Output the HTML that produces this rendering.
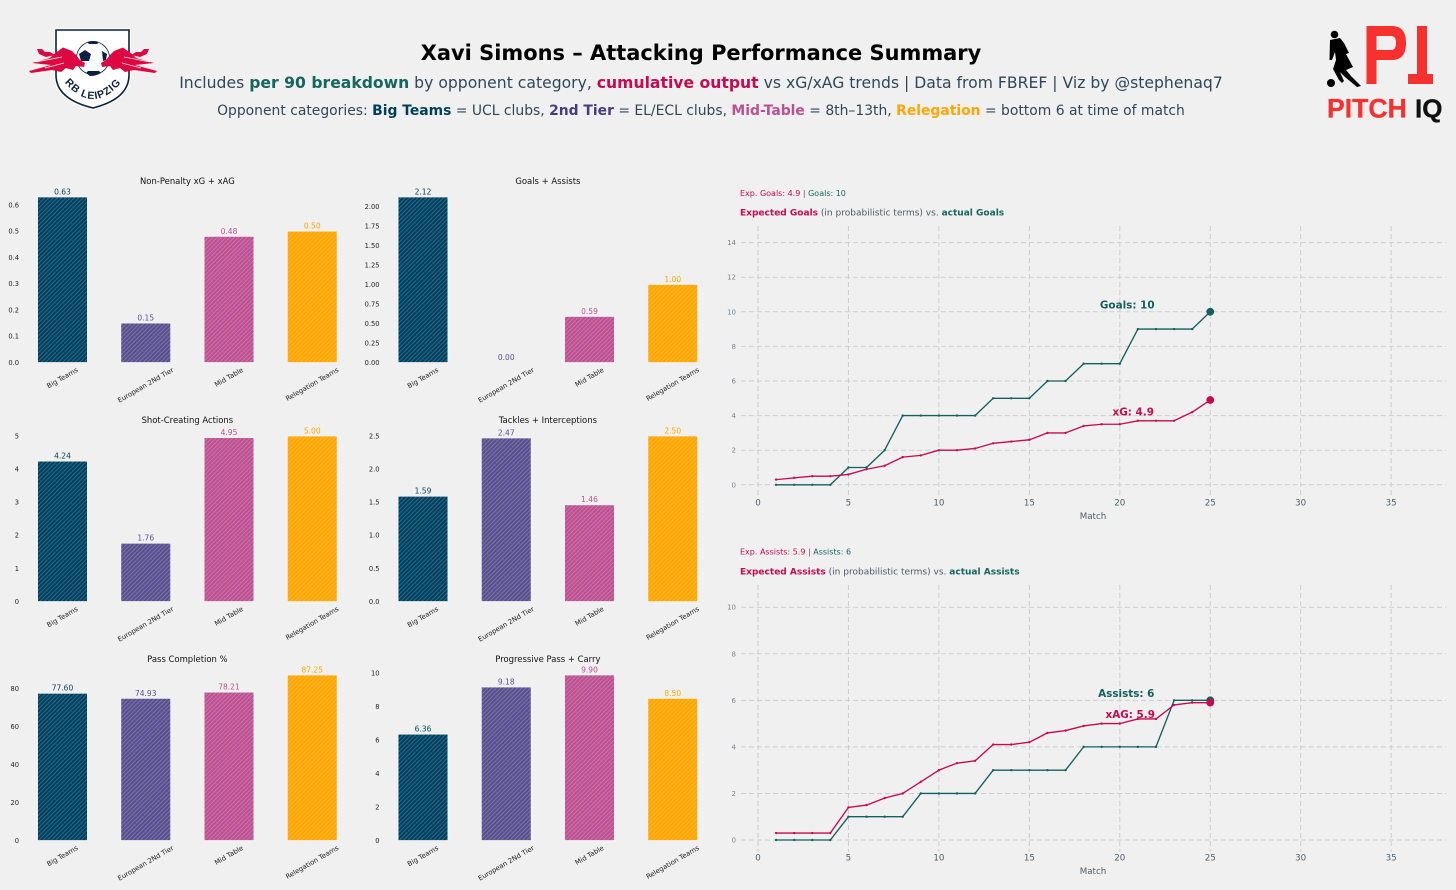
<!DOCTYPE html>
<html>
<head>
<meta charset="utf-8">
<title>Xavi Simons – Attacking Performance Summary</title>
<style>
html,body{margin:0;padding:0;background:#f0f0f0;}
body{width:1456px;height:890px;overflow:hidden;}
svg{display:block;font-family:"DejaVu Sans","Liberation Sans",sans-serif;}
</style>
</head>
<body>
<svg id="root" xmlns="http://www.w3.org/2000/svg" width="1456" height="890" viewBox="0 0 1456 890">
  <defs>
    <pattern id="hatch-0" width="3" height="3" patternUnits="userSpaceOnUse" patternTransform="rotate(45)"><rect width="3" height="3" fill="#003f5c"/><rect width="1" height="3" fill="#2a6a88"/></pattern>
    <pattern id="hatch-1" width="3" height="3" patternUnits="userSpaceOnUse" patternTransform="rotate(45)"><rect width="3" height="3" fill="#58508d"/><rect width="1" height="3" fill="#7a72a8"/></pattern>
    <pattern id="hatch-2" width="3" height="3" patternUnits="userSpaceOnUse" patternTransform="rotate(45)"><rect width="3" height="3" fill="#bc5090"/><rect width="1" height="3" fill="#cc74a8"/></pattern>
    <pattern id="hatch-3" width="3" height="3" patternUnits="userSpaceOnUse" patternTransform="rotate(45)"><rect width="3" height="3" fill="#ffa600"/><rect width="1" height="3" fill="#ffb52e"/></pattern>
    <path id="badge-arc" d="M61 78 Q93 120 125 78"/>
    <g id="bull">
      <path fill="#dd0741" d="M63 47.5 L72 51 L76 55 L80 60 L85 63 L84 67 L76 66 L73 70 L66 68 L61 72 L52 70 L31 73 L29 71 L44 67 L51 65 L32 63 L50 58 L54 54 Z"/>
      <path fill="#dd0741" d="M37 49 L42 49 L45 52 L50 52 L55 55 L46 57 L39 54 Z"/>
      <path fill="none" stroke="#f4f4f4" stroke-width="0.7" d="M36 62 L62 57 M45 68 L64 63"/>
    </g>
  </defs>

  <rect width="1456" height="890" fill="#f0f0f0"/>

  <g>
    <path d="M54 28 H131 V75 Q131 101 93 110 Q54 101 54 75 Z" fill="#ffffff" opacity="0.8"/>
    <path d="M56 30 H129 V75 Q129 99 93 108 Q56 99 56 75 Z" fill="#ffffff" stroke="#0c2043" stroke-width="1.6"/>
    <circle cx="93" cy="58" r="16.5" fill="#ffffff" stroke="#0c2043" stroke-width="0.8"/>
    <path d="M85 50 L91 54 L89 61 L81 61 L79 54 Z" fill="#0c2043"/>
    <path d="M87 42 Q93 40 99 42 L97 44 L89 44 Z" fill="#0c2043"/>
    <path d="M88 71 H99 L101 73 Q96 76 90 76 L86 73 Z" fill="#0c2043"/>
    <path d="M102 51 L107 54 L106 60 L103 61 Z" fill="#0c2043"/>
    <use href="#bull"/>
    <use href="#bull" transform="translate(186 0) scale(-1 1)"/>
    <text font-family="'Liberation Sans',sans-serif" font-weight="700" font-size="10.5" fill="#0c2043"><textPath href="#badge-arc" startOffset="50%" text-anchor="middle" letter-spacing="0.9">RB LEIPZIG</textPath></text>
  </g>

  <g>
    <path fill="#f8312f" fill-rule="evenodd" d="M1366.5 26 H1392 Q1406 26 1406 43 Q1406 60 1392 60 H1376.5 V84 H1366.5 Z M1376.5 36 V50 H1391 Q1396 50 1396 43 Q1396 36 1391 36 Z"/>
    <path fill="#f8312f" d="M1417 26 H1427 V74 H1433 V84 H1408 V74 H1417 Z"/>
    <circle cx="1334.5" cy="34.5" r="3.8" fill="#000"/>
    <path fill="#000" d="M1330 40 L1340 38 L1344 43 L1349 53 L1346 54 L1353 67 L1346 70 L1351 76 L1361 86 L1357 87 L1345 77 L1340 72 L1344 81 L1342 83 L1339 80 L1333 69 L1336 60 L1335 52 L1332 60 L1329.5 60 Z"/>
    <circle cx="1331" cy="83" r="4" fill="#000"/>
    <text x="1327" y="117.5" font-family="'Liberation Sans',sans-serif" font-weight="700" font-size="26.6" fill="#f8312f" stroke="#f8312f" stroke-width="0.3">PITCH</text>
    <text x="1415" y="117.5" font-family="'Liberation Sans',sans-serif" font-weight="700" font-size="26" fill="#111" stroke="#111" stroke-width="0.3">IQ</text>
  </g>

  <text x="701" y="60" text-anchor="middle" font-size="20.95" font-weight="700" fill="#000">Xavi Simons – Attacking Performance Summary</text>
  <text x="701" y="88" text-anchor="middle" font-size="15.63" fill="#2f4858">Includes <tspan font-weight="700" fill="#14665e">per 90 breakdown</tspan> by opponent category, <tspan font-weight="700" fill="#c70a50">cumulative output</tspan> vs xG/xAG trends | Data from FBREF | Viz by @stephenaq7</text>
  <text x="701" y="115" text-anchor="middle" font-size="13.9" fill="#2f4858">Opponent categories: <tspan font-weight="700" fill="#003f5c">Big Teams</tspan> = UCL clubs, <tspan font-weight="700" fill="#463d7e">2nd Tier</tspan> = EL/ECL clubs, <tspan font-weight="700" fill="#bc5090">Mid-Table</tspan> = 8th–13th, <tspan font-weight="700" fill="#ffa600">Relegation</tspan> = bottom 6 at time of match</text>

  <g id="bars-layer"></g>
  <g id="lines-layer"></g>

  <g>
    <text x="740" y="196" font-size="8" fill="#c70a50">Exp. Goals: 4.9 <tspan fill="#555"> | </tspan><tspan fill="#14665e">Goals: 10</tspan></text>
    <text x="740" y="215.5" font-size="9.03" fill="#4a5a68"><tspan font-weight="700" fill="#c70a50">Expected Goals</tspan> (in probabilistic terms) vs. <tspan font-weight="700" fill="#14665e">actual Goals</tspan></text>
  </g>
  <g>
    <text x="740" y="554.5" font-size="8" fill="#c70a50">Exp. Assists: 5.9 <tspan fill="#555"> | </tspan><tspan fill="#14665e">Assists: 6</tspan></text>
    <text x="740" y="574.5" font-size="9.03" fill="#4a5a68"><tspan font-weight="700" fill="#c70a50">Expected Assists</tspan> (in probabilistic terms) vs. <tspan font-weight="700" fill="#14665e">actual Assists</tspan></text>
  </g>
</svg>

<script>
var categories = ['Big Teams', 'European 2Nd Tier', 'Mid Table', 'Relegation Teams'];
var npxgXagValues = [0.63, 0.15, 0.48, 0.50];
var goalsAssistsValues = [2.12, 0.00, 0.59, 1.00];
var scaValues = [4.24, 1.76, 4.95, 5.00];
var tacklesIntsValues = [1.59, 2.47, 1.46, 2.50];
var passPctValues = [77.60, 74.93, 78.21, 87.25];
var progressiveValues = [6.36, 9.18, 9.90, 8.50];

var npxgXagTicks = ['0.0', '0.1', '0.2', '0.3', '0.4', '0.5', '0.6'];
var goalsAssistsTicks = ['0.00', '0.25', '0.50', '0.75', '1.00', '1.25', '1.50', '1.75', '2.00'];
var scaTicks = ['0', '1', '2', '3', '4', '5'];
var tacklesIntsTicks = ['0.0', '0.5', '1.0', '1.5', '2.0', '2.5'];
var passPctTicks = ['0', '20', '40', '60', '80'];
var progressiveTicks = ['0', '2', '4', '6', '8', '10'];

var matches = [1,2,3,4,5,6,7,8,9,10,11,12,13,14,15,16,17,18,19,20,21,22,23,24,25];
var goalsCumulative = [0,0,0,0,1,1,2,4,4,4,4,4,5,5,5,6,6,7,7,7,9,9,9,9,10];
var xgCumulative = [0.3,0.4,0.5,0.5,0.6,0.9,1.1,1.6,1.7,2.0,2.0,2.1,2.4,2.5,2.6,3.0,3.0,3.4,3.5,3.5,3.7,3.7,3.7,4.2,4.9];
var assistsCumulative = [0,0,0,0,1,1,1,1,2,2,2,2,3,3,3,3,3,4,4,4,4,4,6,6,6];
var xagCumulative = [0.3,0.3,0.3,0.3,1.4,1.5,1.8,2.0,2.5,3.0,3.3,3.4,4.1,4.1,4.2,4.6,4.7,4.9,5.0,5.0,5.2,5.2,5.8,5.9,5.9];

var xTicks = [0, 5, 10, 15, 20, 25, 30, 35];
var goalsYTicks = [0, 2, 4, 6, 8, 10, 12, 14];
var assistsYTicks = [0, 2, 4, 6, 8, 10];

var SVGNS = 'http://www.w3.org/2000/svg';
var valueColors = ['#003f5c', '#58508d', '#bc5090', '#ffa600'];
var TEAL = '#14605e';
var CRIMSON = '#c70a50';

function make(tag, parent, attrs, text) {
  var node = document.createElementNS(SVGNS, tag);
  for (var k in attrs) { node.setAttribute(k, attrs[k]); }
  if (text !== undefined) { node.textContent = text; }
  parent.appendChild(node);
  return node;
}

function drawBarPanel(parent, slug, title, values, ticks, left, baseY) {
  var step = 83.25, barW = 49.8, first = left, plotH = 165.5;
  var maxV = Math.max.apply(null, values);
  function xScale(i) { return first + i * step; }
  function yScale(v) { return baseY - v / maxV * plotH; }

  var g = make('g', parent, {});
  
  

  var t = make('text', g, { x: first + 1.5 * step, y: baseY - 178.5, 'text-anchor': 'middle', 'font-size': 8.45, fill: '#111' }, title);
  
  

  ticks.forEach(function (label) {
    var ty = yScale(parseFloat(label));
    var tick = make('text', g, { x: left - 43.5, y: ty + 2.4, 'text-anchor': 'end', 'font-size': 6.7, fill: '#222' }, label);
    
    
  });

  values.forEach(function (v, i) {
    var top = yScale(v);
    var bar = make('rect', g, { x: xScale(i) - barW / 2, y: top, width: barW, height: Math.max(baseY - top, 0), fill: 'url(#hatch-' + i + ')', stroke: '#f6f6f6', 'stroke-width': 0.7 });
    
    

    var lab = make('text', g, { x: xScale(i), y: top - 2.6, 'text-anchor': 'middle', 'font-size': 7.5, fill: valueColors[i] }, v.toFixed(2));
    
    

    var cat = make('text', g, { 'text-anchor': 'middle', 'font-size': 6.8, fill: '#222', 'dominant-baseline': 'central' }, categories[i]);
    
    
    var len = cat.getComputedTextLength();
    var cy = baseY + 4 + (len * 0.5 + 6) / 2;
    cat.setAttribute('x', xScale(i));
    cat.setAttribute('y', cy);
    cat.setAttribute('transform', 'rotate(-30 ' + xScale(i) + ' ' + cy + ')');
  });
}

function drawLinePanel(parent, slug, cfg) {
  function xScale(v) { return 758 + v * 18.09; }
  function yScale(v) { return cfg.baseY - v * cfg.unit; }
  var g = make('g', parent, {});
  
  

  cfg.yTicks.forEach(function (v) {
    var line = make('line', g, { x1: 741, x2: 1446, y1: yScale(v), y2: yScale(v), stroke: '#cdcdcd', 'stroke-width': 1, 'stroke-dasharray': '5 3' });
    
    
    var lab = make('text', g, { x: 736, y: yScale(v) + 2.5, 'text-anchor': 'end', 'font-size': 7, fill: '#7c8288' }, String(v));
    
    
  });
  xTicks.forEach(function (v) {
    var line = make('line', g, { x1: xScale(v), x2: xScale(v), y1: cfg.gridTop, y2: cfg.gridBottom, stroke: '#cdcdcd', 'stroke-width': 1, 'stroke-dasharray': '5 3' });
    
    
    var lab = make('text', g, { x: xScale(v), y: cfg.gridBottom + 8.5, 'text-anchor': 'middle', 'font-size': 8.7, fill: '#4f5e6b' }, String(v));
    
    
  });

  var ax = make('text', g, { x: 1093, y: cfg.gridBottom + 22, 'text-anchor': 'middle', 'font-size': 8.7, fill: '#4f5e6b' }, 'Match');
  
  

  cfg.series.forEach(function (s) {
    var pts = s.values.map(function (v, i) { return xScale(matches[i]).toFixed(2) + ',' + yScale(v).toFixed(2); }).join(' ');
    var line = make('polyline', g, { points: pts, fill: 'none', stroke: s.color, 'stroke-width': 1.35, 'stroke-linejoin': 'round' });
    
    
    s.values.forEach(function (v, i) {
      var isLast = i === s.values.length - 1;
      var dot = make('circle', g, { cx: xScale(matches[i]), cy: yScale(v), r: isLast ? 3.9 : 1.2, fill: s.color });
      
      
    });
    var last = s.values[s.values.length - 1];
    var note = make('text', g, { x: xScale(matches[matches.length - 1]) + s.labelDx, y: yScale(last) + s.labelDy, 'text-anchor': 'middle', 'font-size': 10.4, 'font-weight': 700, fill: s.color }, s.label + ': ' + last);
    
    
  });
}

var barsLayer = document.getElementById('bars-layer');
var linesLayer = document.getElementById('lines-layer');

drawBarPanel(barsLayer, 'npxg-xag', 'Non-Penalty xG + xAG', npxgXagValues, npxgXagTicks, 62.5, 362.5);
drawBarPanel(barsLayer, 'goals-assists', 'Goals + Assists', goalsAssistsValues, goalsAssistsTicks, 423, 362.5);
drawBarPanel(barsLayer, 'shot-creating', 'Shot-Creating Actions', scaValues, scaTicks, 62.5, 601.5);
drawBarPanel(barsLayer, 'tackles-interceptions', 'Tackles + Interceptions', tacklesIntsValues, tacklesIntsTicks, 423, 601.5);
drawBarPanel(barsLayer, 'pass-completion', 'Pass Completion %', passPctValues, passPctTicks, 62.5, 840.5);
drawBarPanel(barsLayer, 'progressive', 'Progressive Pass + Carry', progressiveValues, progressiveTicks, 423, 840.5);

drawLinePanel(linesLayer, 'goals', {
  baseY: 484.8, unit: 17.3, gridTop: 226, gridBottom: 497, yTicks: goalsYTicks,
  series: [
    { name: 'goals', label: 'Goals', values: goalsCumulative, color: TEAL, labelDx: -83, labelDy: -3.5 },
    { name: 'xg', label: 'xG', values: xgCumulative, color: CRIMSON, labelDx: -77, labelDy: 15.5 }
  ]
});
drawLinePanel(linesLayer, 'assists', {
  baseY: 840, unit: 23.28, gridTop: 585, gridBottom: 852, yTicks: assistsYTicks,
  series: [
    { name: 'assists', label: 'Assists', values: assistsCumulative, color: TEAL, labelDx: -84, labelDy: -3.5 },
    { name: 'xag', label: 'xAG', values: xagCumulative, color: CRIMSON, labelDx: -80, labelDy: 15.5 }
  ]
});
</script>
</body>
</html>
